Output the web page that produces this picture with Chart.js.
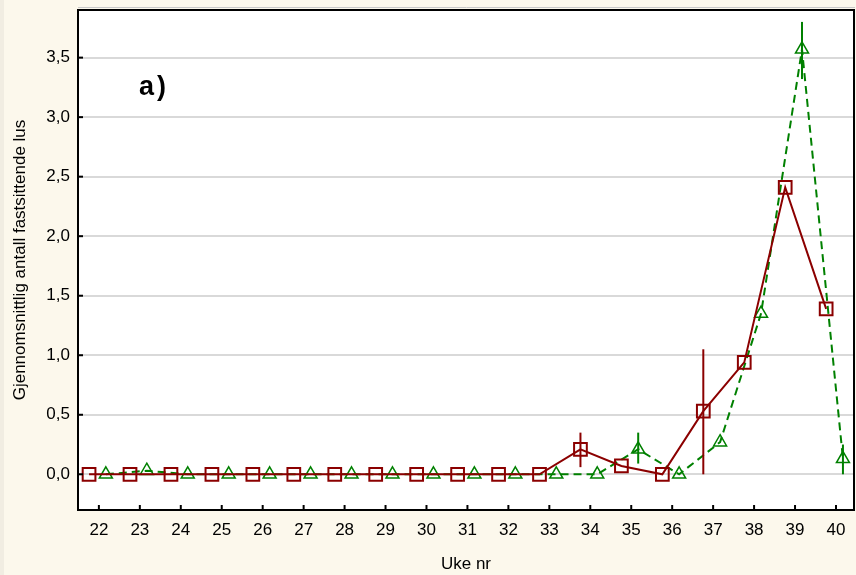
<!DOCTYPE html>
<html>
<head>
<meta charset="utf-8">
<script src="https://cdn.jsdelivr.net/npm/chart.js@4"></script>
<style>
  html, body { margin: 0; padding: 0; background: #fcf8ec; overflow: hidden; }
  #wrap { width: 856px; height: 575px; position: relative; }
</style>
</head>
<body>
<div id="wrap"><canvas id="chart"></canvas></div>
<script>
// ── Data ─────────────────────────────────────────────────────────────
const weeks = [22, 23, 24, 25, 26, 27, 28, 29, 30, 31, 32, 33, 34, 35, 36, 37, 38, 39, 40];

const redMean  = [0, 0, 0, 0, 0, 0, 0, 0, 0, 0, 0, 0, 0.21, 0.07, 0, 0.53, 0.94, 2.41, 1.39];
const redLow   = [null, null, null, null, null, null, null, null, null, null, null, null, 0.06, null, null, 0, null, null, null];
const redHigh  = [null, null, null, null, null, null, null, null, null, null, null, null, 0.35, null, null, 1.05, null, null, null];

const greenMean = [0, 0.03, 0, 0, 0, 0, 0, 0, 0, 0, 0, 0, 0, 0.21, 0, 0.27, 1.35, 3.57, 0.13];
const greenLow  = [null, null, null, null, null, null, null, null, null, null, null, null, null, 0.09, null, null, null, 3.32, 0];
const greenHigh = [null, null, null, null, null, null, null, null, null, null, null, null, null, 0.35, null, null, null, 3.80, 0.25];

const yTicks = [0, 0.5, 1, 1.5, 2, 2.5, 3, 3.5];

const RED = "#8b0000";
const GREEN = "#008000";
const FONT = "'Liberation Sans', Arial, sans-serif";

// x offsets so the two series sit either side of the week tick
const toPoints = (vals, shift) => vals.map((v, i) => ({ x: weeks[i] + shift, y: v }));

// ── Plugins ──────────────────────────────────────────────────────────
const frameBg = {
	id: "frameBg",
	beforeDraw(chart) {
		const { ctx, chartArea: a } = chart;
		ctx.save();
		ctx.fillStyle = "#fcf8ec";
		ctx.fillRect(0, 0, chart.width, chart.height);
		ctx.fillStyle = "#f1ede2";
		ctx.fillRect(0, 0, 4, chart.height);
		ctx.fillStyle = "#ffffff";
		ctx.fillRect(a.left, a.top, a.right - a.left, a.bottom - a.top);
		ctx.restore();
	},
};

const errorBars = {
	id: "errorBars",
	afterDatasetsDraw(chart) {
		const { ctx } = chart;
		const ys = chart.scales.y;
		ctx.save();
		chart.data.datasets.forEach((ds, di) => {
			const meta = chart.getDatasetMeta(di);
			ds.errLow.forEach((lo, i) => {
				const hi = ds.errHigh[i];
				if (lo === null || hi === null) return;
				const x = meta.data[i].x;
				ctx.strokeStyle = ds.borderColor;
				ctx.lineWidth = 2;
				ctx.beginPath();
				ctx.moveTo(x, ys.getPixelForValue(lo));
				ctx.lineTo(x, ys.getPixelForValue(hi));
				ctx.stroke();
			});
		});
		ctx.restore();
	},
};

const frameAndLabel = {
	id: "frameAndLabel",
	afterDraw(chart) {
		const { ctx, chartArea: a, scales } = chart;
		ctx.save();
		// top / right frame with faint shadow
		ctx.strokeStyle = "#c8c8c8";
		ctx.lineWidth = 1;
		ctx.beginPath();
		ctx.moveTo(a.left, a.top - 2.5);
		ctx.lineTo(a.right + 1, a.top - 2.5);
		ctx.stroke();
		ctx.strokeStyle = "#000";
		ctx.lineWidth = 2;
		ctx.beginPath();
		ctx.moveTo(a.left, a.top);
		ctx.lineTo(a.right, a.top);
		ctx.lineTo(a.right, a.bottom);
		ctx.stroke();
		// inward tick marks
		scales.y.ticks.forEach(t => {
			const y = scales.y.getPixelForValue(t.value);
			ctx.beginPath();
			ctx.moveTo(a.left, y);
			ctx.lineTo(a.left + 5, y);
			ctx.stroke();
		});
		scales.x.ticks.forEach(t => {
			const x = scales.x.getPixelForValue(t.value);
			ctx.beginPath();
			ctx.moveTo(x, a.bottom);
			ctx.lineTo(x, a.bottom - 5);
			ctx.stroke();
		});
		// panel label
		ctx.fillStyle = "#000";
		ctx.font = "bold 27px " + FONT;
		ctx.textBaseline = "alphabetic";
		ctx.fillText("a", 139, 95);
		ctx.fillText(")", 157, 95);
		ctx.restore();
	},
};

// ── Chart ────────────────────────────────────────────────────────────
Chart.defaults.font.family = FONT;
Chart.defaults.color = "#000";

new Chart(document.getElementById("chart"), {
	type: "line",
	data: {
		datasets: [
			{
				label: "a",
				data: toPoints(redMean, -0.24),
				errLow: redLow,
				errHigh: redHigh,
				borderColor: RED,
				borderWidth: 2,
				pointStyle: "rect",
				pointRadius: 9,
				pointBorderWidth: 2,
				pointBorderColor: RED,
				pointBackgroundColor: "rgba(0,0,0,0)",
				tension: 0,
			},
			{
				label: "b",
				data: toPoints(greenMean, 0.17),
				errLow: greenLow,
				errHigh: greenHigh,
				borderColor: GREEN,
				borderWidth: 2,
				borderDash: [8, 5],
				pointStyle: "triangle",
				pointRadius: 7.5,
				pointBorderWidth: 1.5,
				pointBorderColor: GREEN,
				pointBackgroundColor: "rgba(0,0,0,0)",
				tension: 0,
			},
		],
	},
	options: {
		responsive: true,
		maintainAspectRatio: false,
		animation: false,
		layout: { autoPadding: false, padding: { top: 10, right: 2, left: 0, bottom: 0 } },
		plugins: {
			legend: { display: false },
			tooltip: { enabled: false },
		},
		scales: {
			x: {
				type: "linear",
				min: 21.49,
				max: 40.44,
				grid: { display: false, drawTicks: false },
				border: { display: true, color: "#000", width: 2 },
				ticks: {
					stepSize: 1,
					includeBounds: false,
					autoSkip: false,
					maxRotation: 0,
					padding: 10,
					font: { size: 17 },
					callback: v => String(v),
				},
				title: {
					display: true,
					text: "Uke nr",
					font: { size: 17 },
					padding: { top: 0, bottom: 0 },
				},
				afterFit: s => {
					s.height = 65;
					s.paddingLeft = 0;
					s.paddingRight = 0;
				},
			},
			y: {
				min: -0.3,
				max: 3.9,
				grid: { color: "#d9d9d9", lineWidth: 2, drawTicks: false },
				border: { display: true, color: "#000", width: 2 },
				afterBuildTicks: s => { s.ticks = yTicks.map(v => ({ value: v })); },
				ticks: {
					padding: 8,
					font: { size: 17 },
					callback: v => v.toFixed(1).replace(".", ","),
				},
				title: {
					display: true,
					text: "Gjennomsnittlig antall fastsittende lus",
					font: { size: 17 },
					padding: { top: 10, bottom: 0 },
				},
				afterFit: s => {
					s.width = 78;
					s.paddingTop = 0;
					s.paddingBottom = 0;
				},
			},
		},
	},
	plugins: [frameBg, errorBars, frameAndLabel],
});
</script>
</body>
</html>
